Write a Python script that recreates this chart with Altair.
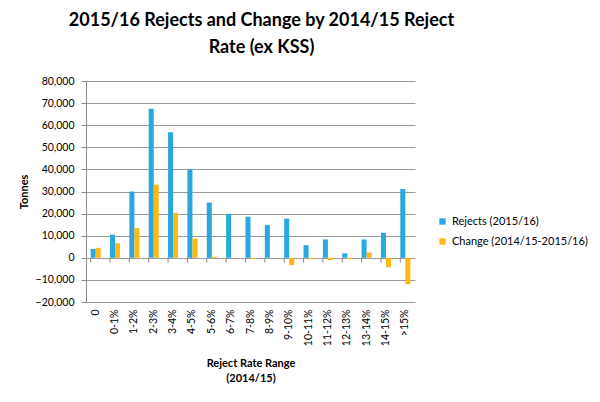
import altair as alt
import pandas as pd

categories = ["0", "0-1%", "1-2%", "2-3%", "3-4%", "4-5%", "5-6%", "6-7%", "7-8%",
              "8-9%", "9-10%", "10-11%", "11-12%", "12-13%", "13-14%", "14-15%", ">15%"]
rejects = [4000, 10500, 30000, 67500, 56800, 40000, 25000, 19800, 18600,
           14800, 17700, 5700, 8300, 2000, 8300, 11300, 31100]
change = [4500, 6600, 13400, 33100, 20300, 8700, 500, 0, -500,
          0, -3300, -600, -1000, -600, 2400, -4200, -12000]
series_names = ["Rejects (2015/16)", "Change (2014/15-2015/16)"]
colors = ["#29A8E0", "#FDB913"]
y_ticks = list(range(-20000, 80001, 10000))

rows = []
for c, r, ch in zip(categories, rejects, change):
    rows.append({"category": c, "series": series_names[0], "value": r})
    rows.append({"category": c, "series": series_names[1], "value": ch})
df = pd.DataFrame(rows)
cat_df = pd.DataFrame({"category": categories})

FONT = "Lato"

y_axis = alt.Axis(values=y_ticks, format=",.0f", title="Tonnes", grid=True,
                  gridColor="#9a9a9a", domainColor="#8a8a8a", tickColor="#8a8a8a",
                  tickSize=5, labelFontSize=10.5, labelColor="#000",
                  titleFontSize=11, titleFontWeight="bold", titleColor="#000",
                  titlePadding=6, labelPadding=7)
y_scale = alt.Scale(domain=[-20000, 80000], nice=False)

bars = alt.Chart(df).mark_bar().encode(
    x=alt.X("category:N", sort=categories,
            scale=alt.Scale(paddingInner=0.48, paddingOuter=0.24),
            axis=alt.Axis(title=["Reject Rate Range", "(2014/15)"], labelAngle=-90,
                          labelAlign="right", labelBaseline="middle",
                          domain=False, ticks=False, labelPadding=7,
                          labelFontSize=10.5, labelColor="#000", titleFontSize=11,
                          titleFontWeight="bold", titleColor="#000", titlePadding=12,
                          titleLineHeight=15)),
    xOffset=alt.XOffset("series:N", sort=series_names, scale=alt.Scale(paddingInner=0)),
    y=alt.Y("value:Q", scale=y_scale, axis=y_axis),
    color=alt.Color("series:N", sort=series_names,
                    scale=alt.Scale(domain=series_names, range=colors),
                    legend=alt.Legend(title=None, orient="none", legendX=351, legendY=135,
                                      symbolType="square", symbolSize=40,
                                      symbolStrokeWidth=0, labelFontSize=11,
                                      labelColor="#000", rowPadding=8)),
)

ticks = alt.Chart(cat_df).mark_rule(color="#8a8a8a").encode(
    x=alt.X("category:N", sort=categories, bandPosition=0),
    y=alt.YDatum(0, scale=y_scale, axis=y_axis),
    y2=alt.datum(-2200),
)

chart = alt.layer(bars, ticks).properties(
    width=329, height=221,
    autosize=alt.AutoSizeParams(type="none"),
    padding={"left": 78, "top": 73, "right": 177, "bottom": 92},
    title=alt.TitleParams(text=["2015/16 Rejects and Change by 2014/15 Reject", "Rate (ex KSS)"],
                          fontSize=18, fontWeight="bold", font=FONT, lineHeight=27,
                          dx=11, offset=19, color="#000"),
).configure(font=FONT).configure_view(stroke=None)

chart.save("out.html", embed_options={"renderer": "svg", "actions": False})
